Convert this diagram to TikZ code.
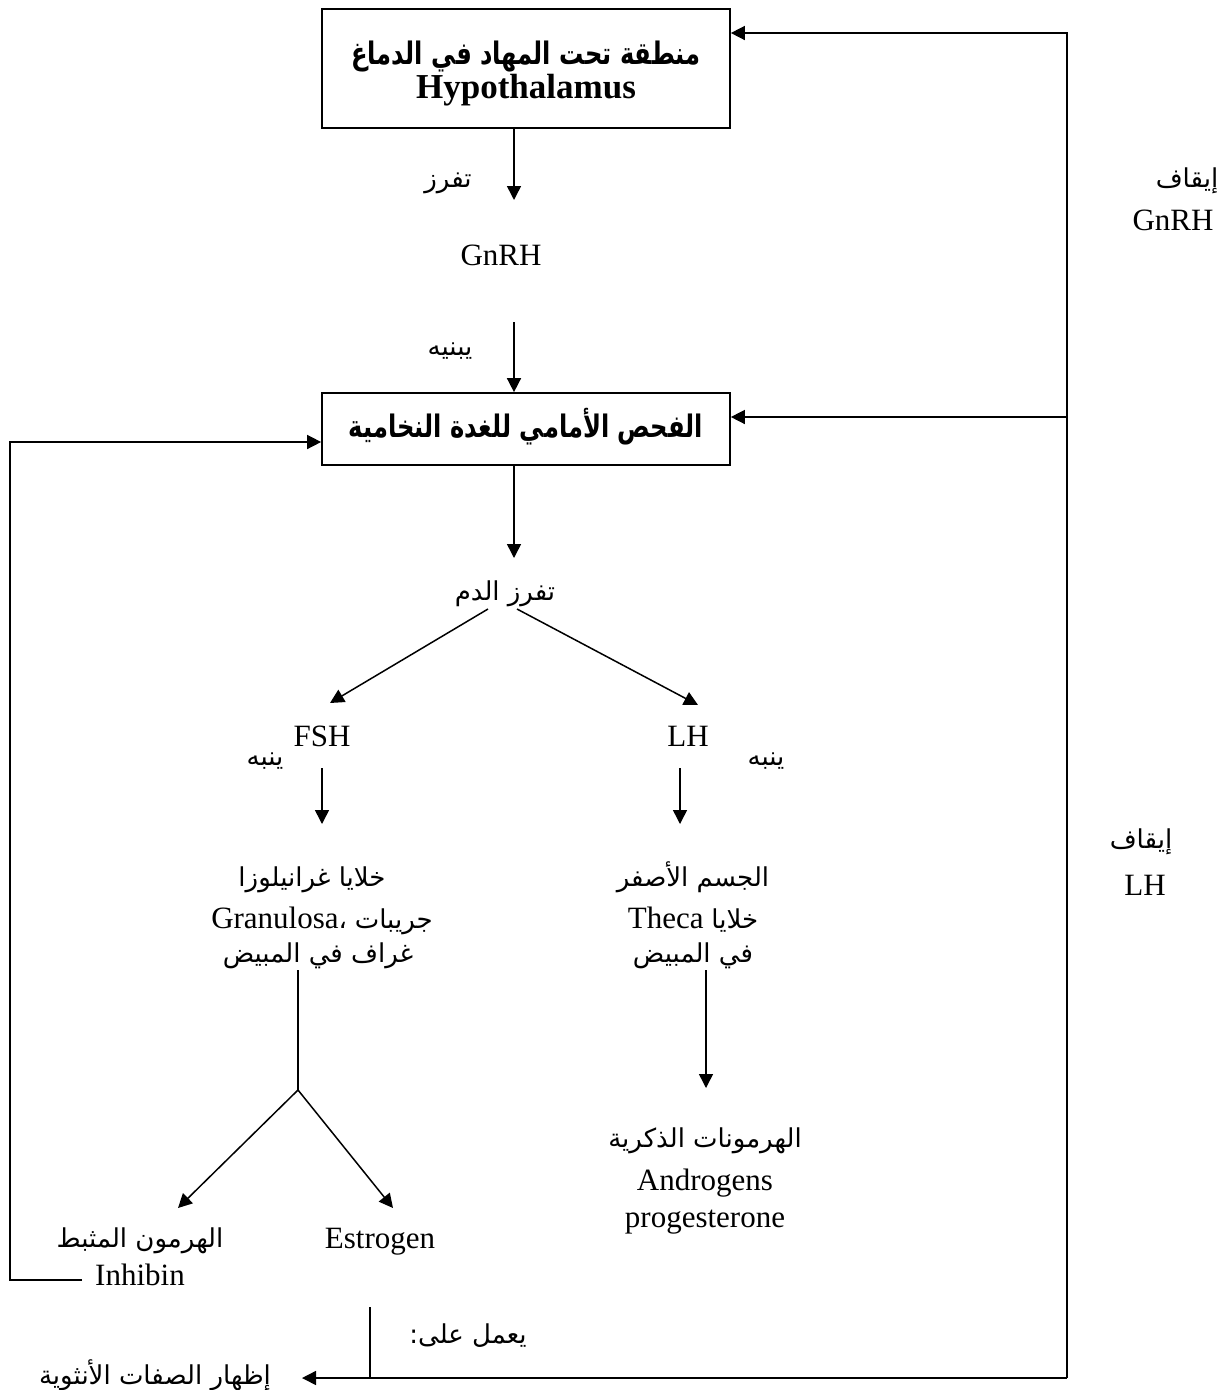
\documentclass[tikz,border=0pt]{standalone}
\usepackage{fontspec}
\setmainfont{Liberation Serif}
\newfontfamily\ar[Script=Arabic]{DejaVu Sans}
\newfontfamily\arbf[Script=Arabic,FakeStretch=0.78]{DejaVu Sans Bold}
\TeXXeTstate=1
\usetikzlibrary{arrows.meta}
\newcommand\ARt[1]{{\ar\fontsize{26}{38}\selectfont\beginR #1\endR}}
\begin{document}
\begin{tikzpicture}[x=1pt,y=-1pt,line width=1.5pt,
  >={Triangle[length=14pt,width=14pt]},
  lat/.style={font=\fontsize{31}{38}\selectfont,inner sep=0pt,anchor=base},
  arl/.style={font=\ar\fontsize{26}{38}\selectfont,inner sep=0pt,anchor=base},
  arb/.style={font=\arbf\fontsize{31}{36}\selectfont,inner sep=0pt,anchor=base},
  boxn/.style={draw,line width=1.7pt,inner sep=0pt,minimum width=408pt}]
\useasboundingbox (0,0) rectangle (1226,1390);
% boxes
\node[boxn,minimum height=119pt] (hyp) at (526,68.5) {};
\node[arb] (hypar) at (526,64) {\beginR منطقة تحت المهاد في الدماغ\endR};
\node[lat,font=\bfseries\fontsize{35}{40}\selectfont] (hypen) at (526,98) {Hypothalamus};
\node[boxn,minimum height=72pt] (pit) at (526,429) {};
\node[arb] (pittx) at (526,437) {\beginR الفحص الأمامي للغدة النخامية\endR};
% labels
\node[arl] (tfz) at (448,187) {\beginR تفرز\endR};
\node[lat] (gnrh) at (501,265) {GnRH};
\node[arl] (ybn) at (450,355) {\beginR يبنيه\endR};
\node[arl] (blood) at (505,600) {\beginR تفرز الدم\endR};
\node[lat] (fsh) at (322,746) {FSH};
\node[lat] (lh) at (688,746) {LH};
\node[arl] (yn1) at (265,765) {\beginR ينبه\endR};
\node[arl] (yn2) at (766,765) {\beginR ينبه\endR};
% granulosa block
\node[arl] (g1) at (312,886) {\beginR خلايا غرانيلوزا\endR};
\node[lat] (g2) at (322,928) {Granulosa{\ar\fontsize{26}{38}\selectfont ،} \ARt{جريبات}};
\node[arl] (g3) at (318,962) {\beginR غراف في المبيض\endR};
% theca block
\node[arl] (t1) at (693,886) {\beginR الجسم الأصفر\endR};
\node[lat] (t2) at (693,928) {Theca \ARt{خلايا}};
\node[arl] (t3) at (693,962) {\beginR في المبيض\endR};
% androgens
\node[arl] (an1) at (705,1147) {\beginR الهرمونات الذكرية\endR};
\node[lat] (an2) at (705,1190) {Androgens};
\node[lat] (an3) at (705,1227) {progesterone};
% inhibin / estrogen
\node[arl] (in1) at (140,1247) {\beginR الهرمون المثبط\endR};
\node[lat] (in2) at (140,1285) {Inhibin};
\node[lat] (est) at (380,1248) {Estrogen};
\node[arl] (act) at (468,1343) {\beginR يعمل على:\endR};
\node[arl] (fem) at (155,1384) {\beginR إظهار الصفات الأنثوية\endR};
% stop labels
\node[arl] (st1) at (1187,187) {\beginR إيقاف\endR};
\node[lat] (st1b) at (1173,230) {GnRH};
\node[arl] (st2) at (1141,848) {\beginR إيقاف\endR};
\node[lat] (st2b) at (1145,895) {LH};
% coordinates
\coordinate (a1e) at (514,200);
\coordinate (a2s) at (514,322);
\coordinate (a3e) at (514,558);
\coordinate (bl) at (488,609);
\coordinate (br) at (517,609);
\coordinate (fshT) at (330,703);
\coordinate (lhT) at (698,705);
\coordinate (fshs) at (322,768);
\coordinate (fshe) at (322,824);
\coordinate (lhs) at (680,768);
\coordinate (lhe) at (680,824);
\coordinate (gs) at (298,970);
\coordinate (split) at (298,1090);
\coordinate (inT) at (178,1208);
\coordinate (esT) at (393,1208);
\coordinate (ts) at (706,970);
\coordinate (te) at (706,1088);
\coordinate (inL) at (82,1280);
\coordinate (lc1) at (10,1280);
\coordinate (lc2) at (10,442);
\coordinate (rtop) at (1067,33);
\coordinate (rmid) at (1067,417);
\coordinate (rbot) at (1067,1378);
\coordinate (esl) at (370,1307);
\coordinate (femT) at (302,1378);
% connectors
\draw[->] ([xshift=-12pt]hyp.south) -- (a1e);
\draw[->] (a2s) -- ([xshift=-12pt]pit.north);
\draw[->] ([xshift=-12pt]pit.south) -- (a3e);
\draw[->] (bl) -- (fshT);
\draw[->] (br) -- (lhT);
\draw[->] (fshs) -- (fshe);
\draw[->] (lhs) -- (lhe);
\draw (gs) -- (split);
\draw[->] (split) -- (inT);
\draw[->] (split) -- (esT);
\draw[->] (ts) -- (te);
\draw[->] (inL) -- (lc1) -- (lc2) -- (lc2 -| pit.west);
\draw[->] (rbot) -- (rtop) -- (rtop -| hyp.east);
\draw[->] (rmid) -- (rmid -| pit.east);
\draw[->] (rbot) -- (femT);
\draw (esl) -- (esl |- rbot);
\end{tikzpicture}
\end{document}
